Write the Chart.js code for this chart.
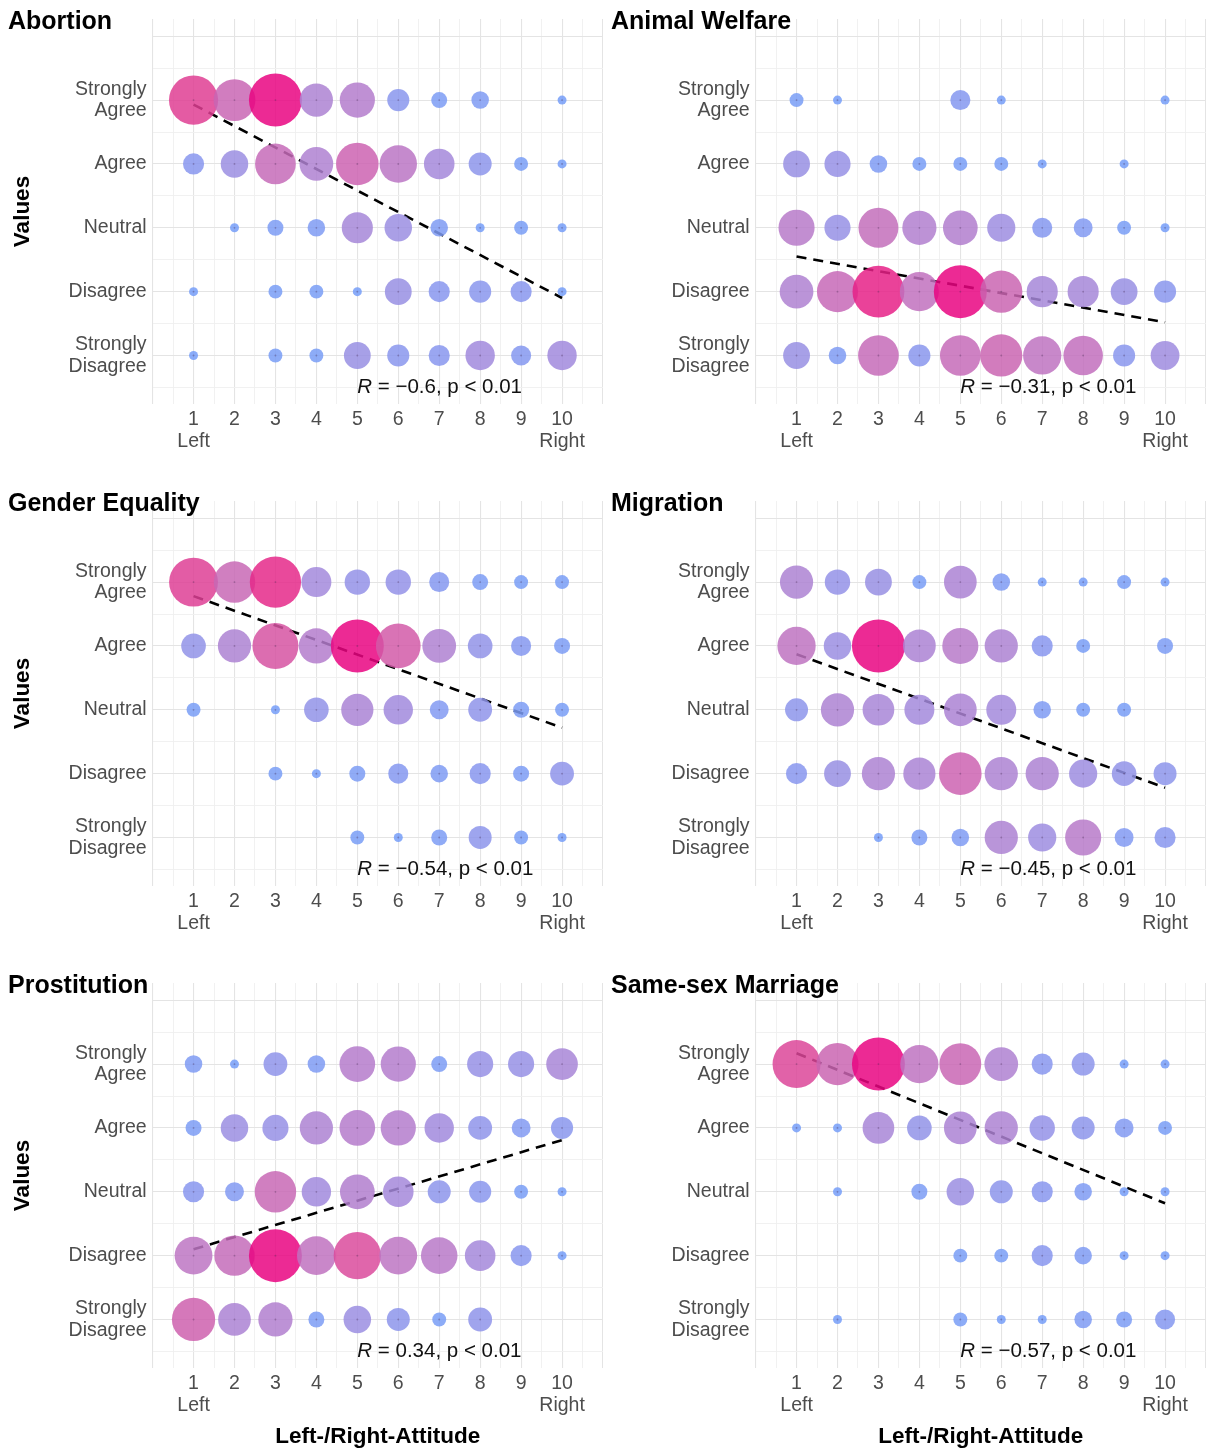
<!DOCTYPE html>
<html><head><meta charset="utf-8">
<script src="https://cdn.jsdelivr.net/npm/chart.js@4/dist/chart.umd.min.js"></script>
<style>
html,body{margin:0;padding:0;background:#fff;}
#wrap{position:relative;width:1206px;height:1450px;background:#fff;}
canvas{position:absolute;}
</style></head><body><div id="wrap"></div>
<script>
// ---------- data ----------
const xValues = [1, 2, 3, 4, 5, 6, 7, 8, 9, 10];
const rowValues = [5, 4, 3, 2, 1]; // Strongly Agree ... Strongly Disagree
const valueLabels = { 5: ['Strongly', 'Agree'], 4: 'Agree', 3: 'Neutral', 2: 'Disagree', 1: ['Strongly', 'Disagree'] };
const topics = ['Abortion', 'Animal Welfare', 'Gender Equality', 'Migration', 'Prostitution', 'Same-sex Marriage'];

// estimated respondent counts, rows: Strongly Agree, Agree, Neutral, Disagree, Strongly Disagree; columns x = 1..10
const abortionCounts = [
  [67, 45, 80, 25, 29, 8, 3, 4, null, 1],
  [7, 15, 42, 26, 47, 34, 20, 9, 2, 1],
  [null, 1, 3, 4, 21, 15, 4, 1, 2, 1],
  [1, null, 2, 2, 1, 14, 7, 8, 7, 1],
  [1, null, 2, 2, 14, 8, 7, 18, 6, 18]
];
const animalCounts = [
  [2, 1, null, null, 6, 1, null, null, null, 1],
  [14, 13, 4, 2, 2, 2, 1, null, 1, null],
  [31, 13, 40, 27, 28, 16, 6, 5, 2, 1],
  [26, 43, 76, 38, 80, 46, 21, 21, 14, 8],
  [14, 4, 42, 8, 42, 46, 36, 39, 8, 17]
];
const genderCounts = [
  [66, 44, 74, 19, 12, 12, 6, 3, 2, 2],
  [11, 25, 57, 29, 80, 53, 26, 11, 6, 3],
  [2, null, 1, 11, 23, 18, 5, 10, 3, 2],
  [null, null, 2, 1, 3, 6, 4, 7, 3, 10],
  [null, null, null, null, 2, 1, 3, 9, 2, 1]
];
const migrationCounts = [
  [25, 12, 14, 2, 24, 4, 1, 1, 2, 1],
  [36, 15, 80, 24, 31, 25, 7, 2, null, 3],
  [9, 25, 22, 19, 24, 19, 4, 2, 2, null],
  [7, 14, 25, 23, 47, 25, 25, 16, 11, 9],
  [null, null, 1, 3, 4, 25, 16, 31, 5, 7]
];
const prostitutionCounts = [
  [4, 1, 10, 4, 30, 29, 3, 13, 13, 22],
  [3, 15, 13, 25, 30, 29, 18, 10, 5, 8],
  [7, 5, 44, 18, 28, 20, 9, 8, 2, 1],
  [35, 41, 80, 37, 61, 35, 32, 20, 7, 1],
  [49, 24, 27, 3, 15, 9, 2, 10, null, null]
];
const sameSexCounts = [
  [63, 46, 80, 36, 45, 26, 7, 9, 1, 1],
  [1, 1, 22, 11, 24, 25, 12, 9, 5, 2],
  [null, 1, null, 3, 15, 9, 7, 4, 1, 1],
  [null, null, null, null, 2, 2, 7, 4, 1, 1],
  [null, 1, null, null, 2, 1, 1, 4, 3, 6]
];
const panelCounts = [abortionCounts, animalCounts, genderCounts, migrationCounts, prostitutionCounts, sameSexCounts];

// fitted trend line: value at x = 1 and at x = 10
const trendStart = [4.93, 2.55, 4.78, 3.87, 2.10, 5.17];
const trendEnd = [1.90, 1.52, 2.72, 1.78, 3.81, 2.82];
const corR = ['\u22120.6', '\u22120.31', '\u22120.54', '\u22120.45', '0.34', '\u22120.57'];
const corP = ['0.01', '0.01', '0.01', '0.01', '0.01', '0.01'];

// ---------- styling helpers ----------
const FONT = "'Liberation Sans', Arial, Helvetica, sans-serif";
const lowRGB = [118, 158, 248], highRGB = [233, 5, 129], bubbleAlpha = 0.85;
function toLab(rgb) {
  const [r, g, b] = rgb.map(c => { c /= 255; return c <= 0.04045 ? c / 12.92 : Math.pow((c + 0.055) / 1.055, 2.4); });
  const X = (r * 0.4124 + g * 0.3576 + b * 0.1805) / 0.95047, Y = r * 0.2126 + g * 0.7152 + b * 0.0722, Z = (r * 0.0193 + g * 0.1192 + b * 0.9505) / 1.08883;
  const f = t => t > 0.008856 ? Math.cbrt(t) : 7.787 * t + 16 / 116;
  return [116 * f(Y) - 16, 500 * (f(X) - f(Y)), 200 * (f(Y) - f(Z))];
}
function fromLab([L, a, b]) {
  const fy = (L + 16) / 116, fx = a / 500 + fy, fz = fy - b / 200;
  const inv = t => t * t * t > 0.008856 ? t * t * t : (t - 16 / 116) / 7.787;
  const X = inv(fx) * 0.95047, Y = inv(fy), Z = inv(fz) * 1.08883;
  const r = X * 3.2406 - Y * 1.5372 - Z * 0.4986, g = -X * 0.9689 + Y * 1.8758 + Z * 0.0415, bb = X * 0.0557 - Y * 0.2040 + Z * 1.0570;
  return [r, g, bb].map(c => { c = c <= 0.0031308 ? 12.92 * c : 1.055 * Math.pow(c, 1 / 2.4) - 0.055; return Math.round(Math.max(0, Math.min(1, c)) * 255); });
}
const lowLab = toLab(lowRGB), highLab = toLab(highRGB);
function colourFor(t) {
  const lab = lowLab.map((v, i) => v + (highLab[i] - v) * t);
  const [r, g, b] = fromLab(lab);
  return `rgba(${r},${g},${b},${bubbleAlpha})`;
}

const panelTextPlugin = {
  id: 'panelText',
  afterDraw(chart, args, opts) {
    const ctx = chart.ctx;
    const { x, y } = chart.scales;
    ctx.save();
    // panel title
    ctx.fillStyle = '#000';
    ctx.font = `bold 25px ${FONT}`;
    ctx.textAlign = 'left';
    ctx.textBaseline = 'alphabetic';
    ctx.fillText(opts.title, 8, 29);
    // correlation annotation
    const px = x.getPixelForValue(opts.labelX), py = y.getPixelForValue(opts.labelY);
    ctx.fillStyle = '#111';
    ctx.textBaseline = 'middle';
    ctx.font = `italic 20.5px ${FONT}`;
    ctx.fillText('R', px, py);
    const w = ctx.measureText('R').width;
    ctx.font = `20.5px ${FONT}`;
    ctx.fillText(` = ${opts.r}, p < ${opts.p}`, px + w, py);
    ctx.restore();
  }
};

const wrap = document.getElementById('wrap');
topics.forEach((topic, idx) => {
  const col = idx % 2, row = Math.floor(idx / 2);
  const h = row === 2 ? 486 : 482;
  const canvas = document.createElement('canvas');
  canvas.width = 603; canvas.height = h;
  canvas.style.left = (col * 603) + 'px';
  canvas.style.top = (row * 482) + 'px';
  wrap.appendChild(canvas);

  const counts = panelCounts[idx];
  const points = [];
  counts.forEach((rowArr, ri) => rowArr.forEach((n, ci) => {
    if (n !== null) points.push({ x: xValues[ci], y: rowValues[ri], n });
  }));
  const ns = points.map(p => p.n);
  const nMin = Math.min(...ns), nMax = Math.max(...ns);
  const tOf = n => (n - nMin) / (nMax - nMin);
  const dMin = 9, dMax = 53;
  const radiusOf = n => (dMin + (dMax - dMin) * Math.sqrt(tOf(n))) / 2;

  const gridColor = ctx => Number.isInteger(ctx.tick.value) ? '#e4e4e4' : '#efefef';
  const gridWidth = ctx => Number.isInteger(ctx.tick.value) ? 1.1 : 0.9;

  new Chart(canvas, {
    data: {
      datasets: [
        {
          type: 'line', order: 2,
          data: [{ x: xValues[0], y: trendStart[idx] }, { x: xValues[xValues.length - 1], y: trendEnd[idx] }],
          borderColor: '#000', borderWidth: 2.6, borderDash: [10, 7], pointRadius: 0, fill: false, tension: 0
        },
        {
          type: 'bubble', order: 1,
          data: points,
          radius: c => radiusOf(c.raw.n),
          backgroundColor: c => colourFor(tOf(c.raw.n)),
          borderWidth: 0, hoverRadius: 0
        },
        {
          type: 'scatter', order: 0,
          data: points.map(p => ({ x: p.x, y: p.y })),
          pointRadius: 0.9, backgroundColor: 'rgba(70,40,80,0.35)', borderWidth: 0
        }
      ]
    },
    options: {
      responsive: false, animation: false, devicePixelRatio: 1,
      layout: { autoPadding: false, padding: { top: 19, left: 0, right: 0, bottom: 0 } },
      plugins: {
        legend: { display: false }, tooltip: { enabled: false },
        panelText: { title: topic, r: corR[idx], p: corP[idx], labelX: 5, labelY: 0.5 }
      },
      scales: {
        x: {
          type: 'linear', position: 'bottom', min: 0, max: 11,
          border: { display: false },
          grid: { color: gridColor, lineWidth: gridWidth, drawTicks: false },
          ticks: {
            stepSize: 0.5, autoSkip: false, maxRotation: 0, minRotation: 0, padding: 5,
            color: '#4d4d4d', font: { family: FONT, size: 19.5, lineHeight: 1.13 },
            callback: v => v === 1 ? ['1', 'Left'] : v === 10 ? ['10', 'Right'] : (Number.isInteger(v) && v >= 1 && v <= 10 ? String(v) : '')
          },
          title: { display: row === 2, text: 'Left-/Right-Attitude', color: '#000', font: { family: FONT, size: 22.5, weight: 'bold' }, padding: { top: 0, bottom: 0 } },
          afterFit: s => { s.height = h - 404; s.paddingLeft = 0; s.paddingRight = 0; }
        },
        y: {
          type: 'linear', position: 'left', min: 0.24, max: 6.27,
          border: { display: false },
          grid: { color: gridColor, lineWidth: gridWidth, drawTicks: false },
          ticks: {
            stepSize: 0.5, includeBounds: false, autoSkip: false, padding: 6,
            color: '#4d4d4d', font: { family: FONT, size: 19.5, lineHeight: 1.1 },
            callback: v => (Number.isInteger(v) && valueLabels[v] !== undefined) ? valueLabels[v] : ''
          },
          title: { display: col === 0, text: 'Values', color: '#000', font: { family: FONT, size: 22.5, weight: 'bold' }, padding: { top: 9, bottom: 0 } },
          afterFit: s => { s.width = 152.6; s.paddingTop = 0; s.paddingBottom = 0; }
        }
      }
    },
    plugins: [panelTextPlugin]
  });
});
</script></body></html>
